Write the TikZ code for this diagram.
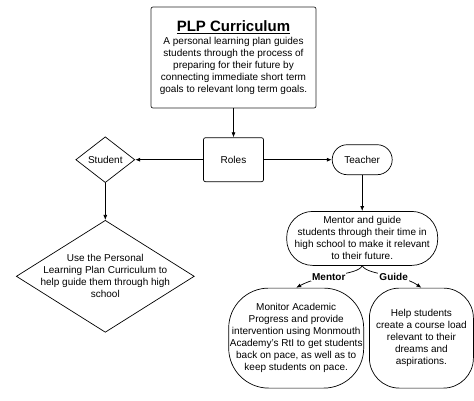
\documentclass[tikz,border=0pt]{standalone}
\usepackage{fontspec}
\setmainfont{Liberation Sans}
\usepackage{tikz}
\usetikzlibrary{
    shapes.geometric,
    arrows.meta,
    positioning
}
\tikzstyle{txt} = [
    font=\fontsize{10}{12}\selectfont,
    text centered,
    align=center
]
\tikzstyle{titlebox} = [
    rectangle, draw=black!85,
    rounded corners=2pt,
    minimum width=165pt,
    minimum height=101pt,
    txt
]
\tikzstyle{box} = [
    rectangle, draw,
    rounded corners=2pt,
    minimum width=60pt,
    minimum height=44pt,
    txt
]
\tikzstyle{decision} = [
    diamond, draw,
    inner sep=1pt,
    txt
]
\tikzstyle{pill} = [
    rectangle, draw,
    rounded corners=15pt,
    minimum width=60pt,
    minimum height=30pt,
    txt
]
\tikzstyle{bubble} = [
    rectangle, draw,
    inner sep=0pt,
    txt
]
\tikzstyle{arrow} = [
    line width=0.7pt,
    -{Latex[length=5pt,width=4pt]}
]

\begin{document}
\begin{tikzpicture}[x=1pt, y=-1pt, line width=0.7pt]
\useasboundingbox (0,0) rectangle (474,400);

\node (plp) [titlebox] at (233.5,57.5)
    {{\fontsize{15}{18}\selectfont\bfseries\underline{PLP Curriculum}}\\[1pt]
     A personal learning plan guides\\students through the process of\\
     preparing for their future by\\connecting immediate short term\\
     goals to relevant long term goals.};
\node (roles) [box, below=29pt of plp] {Roles};
\node (student) [decision, minimum width=59pt, minimum height=44pt,
    left=68pt of roles] {Student};
\node (teacher) [pill, right=68pt of roles] {Teacher};
\node (mentor) [bubble, rounded corners=26pt, minimum width=151pt,
    minimum height=54pt, below=36pt of teacher]
    {Mentor and guide\\students through their time in\\
     high school to make it relevant\\to their future.};
\node (monitor) [bubble, rounded corners=40pt, minimum width=135pt,
    minimum height=100pt, below=22pt of mentor.south, xshift=-66pt]
    {Monitor Academic\\Progress and provide\\intervention using Monmouth\\
     Academy's RtI to get students\\back on pace, as well as to\\
     keep students on pace.};
\node (help) [bubble, rounded corners=30pt, minimum width=104pt,
    minimum height=100pt, right=5pt of monitor]
    {Help students\\create a course load\\relevant to their\\dreams and\\aspirations.};
\node (usediamond) [diamond, draw, inner sep=0pt, minimum width=178pt,
    minimum height=112pt, below=37pt of student] {};
\node (usetext) [txt] at (usediamond.center)
    {Use the Personal\\Learning Plan Curriculum to\\help guide them through high\\school};

\draw [arrow] (plp) -- (roles);
\draw [arrow] (roles) -- (student);
\draw [arrow] (roles) -- (teacher);
\draw [arrow] (student) -- (usediamond);
\draw [arrow] (teacher) -- (mentor);

% Mentor / Guide
\draw [arrow] (mentor.south) .. controls +(-5,10) and +(25,-14) .. (monitor.north)
    node [pos=0.6, fill=white, inner sep=1pt, font=\fontsize{10}{12}\selectfont\bfseries] {Mentor};
\draw [arrow] (mentor.south) .. controls +(6,10) and +(-20,-14) .. (help.north)
    node [pos=0.6, fill=white, inner sep=1pt, font=\fontsize{10}{12}\selectfont\bfseries] {Guide};

\end{tikzpicture}
\end{document}
